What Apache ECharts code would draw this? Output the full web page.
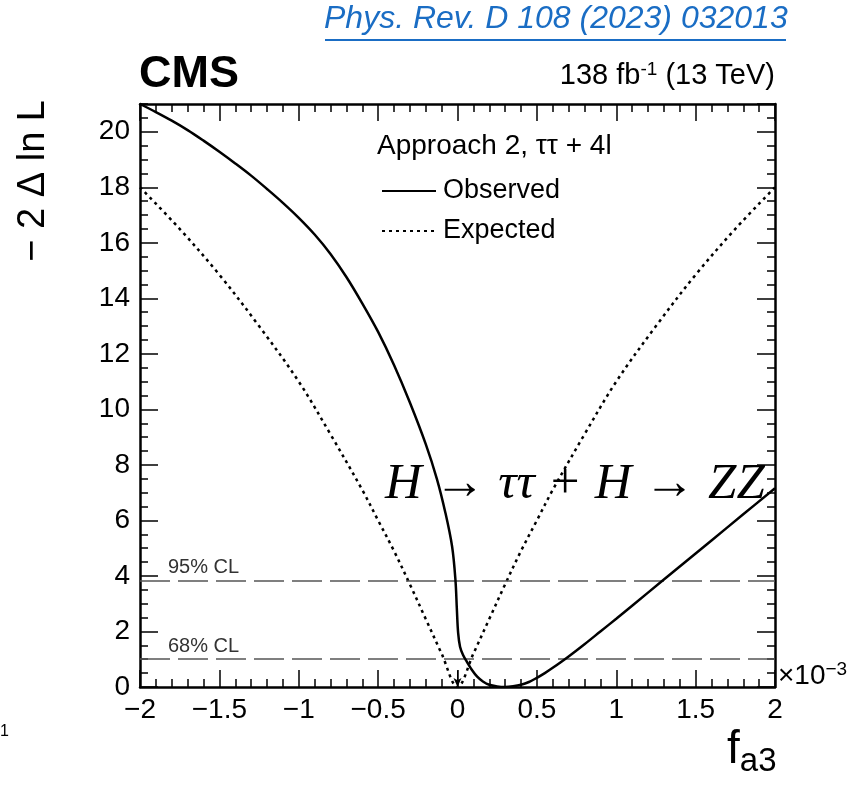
<!DOCTYPE html>
<html>
<head>
<meta charset="utf-8">
<script src="https://cdn.jsdelivr.net/npm/echarts@6/dist/echarts.min.js"></script>
<style>
html,body{margin:0;padding:0;background:#fff;}
#chart{width:851px;height:796px;}
</style>
</head>
<body>
<div id="chart"></div>
<script>
// ---- data ----
const obsX = [-2.0, -1.9, -1.8, -1.7, -1.6, -1.5, -1.4, -1.3, -1.2, -1.1, -1.0, -0.9, -0.8, -0.7, -0.6, -0.5, -0.4, -0.3, -0.2, -0.13, -0.076, -0.034, -0.013, -0.004, 0.004, 0.016, 0.035, 0.06, 0.09, 0.124, 0.16, 0.2, 0.25, 0.3, 0.35, 0.4, 0.45, 0.5, 0.55, 0.6, 0.7, 0.8, 0.9, 1.0, 1.2, 1.4, 1.6, 1.8, 2.0];
const obsY = [21.0, 20.71, 20.4, 20.06, 19.68, 19.28, 18.86, 18.42, 17.94, 17.44, 16.9, 16.3, 15.6, 14.77, 13.82, 12.79, 11.6, 10.25, 8.75, 7.5, 6.27, 5.06, 3.86, 2.8, 1.95, 1.45, 1.15, 0.9, 0.62, 0.37, 0.2, 0.08, 0.02, 0.0, 0.025, 0.08, 0.18, 0.33, 0.5, 0.69, 1.1, 1.54, 2.0, 2.46, 3.4, 4.34, 5.28, 6.22, 7.16];
const expX = [-2.0, -1.75, -1.5, -1.25, -1.0, -0.8, -0.6, -0.5, -0.4, -0.3, -0.2, -0.1, 0.0, 0.1, 0.2, 0.3, 0.4, 0.5, 0.6, 0.8, 1.0, 1.25, 1.5, 1.75, 2.0];
const expY = [18.0, 16.5, 14.85, 13.0, 11.0, 9.1, 7.1, 6.0, 4.9, 3.7, 2.45, 1.2, 0.0, 1.2, 2.45, 3.7, 4.9, 6.0, 7.1, 9.1, 11.0, 13.0, 14.85, 16.5, 18.0];
const clLevels = [1.0, 3.84];
const clLabels = ['68% CL', '95% CL'];
const arrowX = 0.0, arrowTop = 0.6;
const xTicks = [-2, -1.5, -1, -0.5, 0, 0.5, 1, 1.5, 2];
const yTicks = [0, 2, 4, 6, 8, 10, 12, 14, 16, 18, 20];
const seriesNames = ['Observed', 'Expected'];

const FONT = "'Liberation Sans', Arial, Helvetica, sans-serif";
const pair = (xs, ys) => xs.map((x, i) => [x, ys[i]]);
const fmtMinus = v => (v < 0 ? '\u2212' + Math.abs(v) : String(v));

const chart = echarts.init(document.getElementById('chart'), null, {renderer: 'canvas'});

const frameLine = {show: true, onZero: false, lineStyle: {color: '#000', width: 2.5}};
const hiddenLine = {show: false, onZero: false};
const majTickX = {show: true, inside: true, length: 17, lineStyle: {color: '#000', width: 1.5}};
const minTickX = {show: true, splitNumber: 5, length: 8, lineStyle: {color: '#000', width: 1.5}};
const majTickY = {show: true, inside: true, length: 18, lineStyle: {color: '#000', width: 1.5}};
const minTickY = {show: true, inside: true, length: 8, lineStyle: {color: '#000', width: 1.5}};

const option = {
  animation: false,
  backgroundColor: '#fff',
  grid: {left: 140, right: 76, top: 104, bottom: 109, containLabel: false},
  xAxis: [
    {type: 'value', min: -2, max: 2, interval: 0.5, position: 'bottom',
     axisLine: frameLine, axisTick: majTickX, minorTick: minTickX,
     splitLine: {show: false}, minorSplitLine: {show: false},
     axisLabel: {show: true, margin: 9, fontFamily: FONT, fontSize: 28, color: '#000',
       formatter: v => (xTicks.indexOf(v) >= 0 ? fmtMinus(v) : '')}},
    {type: 'value', min: -2, max: 2, interval: 0.5, position: 'top',
     axisLine: frameLine, axisTick: majTickX, minorTick: minTickX,
     splitLine: {show: false}, axisLabel: {show: false}}
  ],
  yAxis: [
    {type: 'value', min: 0, max: 21, interval: 2, position: 'left',
     axisLine: frameLine, axisTick: majTickY, splitLine: {show: false},
     axisLabel: {show: true, margin: 10, fontFamily: FONT, fontSize: 28, color: '#000', showMaxLabel: false,
       formatter: v => (yTicks.indexOf(v) >= 0 ? String(v) : '')}},
    {type: 'value', min: 0, max: 21, interval: 0.5, position: 'left',
     axisLine: hiddenLine, axisTick: minTickY, splitLine: {show: false}, axisLabel: {show: false}},
    {type: 'value', min: 0, max: 21, interval: 2, position: 'right',
     axisLine: frameLine, axisTick: majTickY, splitLine: {show: false}, axisLabel: {show: false}},
    {type: 'value', min: 0, max: 21, interval: 0.5, position: 'right',
     axisLine: hiddenLine, axisTick: minTickY, splitLine: {show: false}, axisLabel: {show: false}}
  ],
  legend: {
    orient: 'vertical', left: 376, top: 172, itemWidth: 54, itemHeight: 20, itemGap: 12,
    data: seriesNames,
    itemStyle: {opacity: 0},
    textStyle: {fontFamily: FONT, fontSize: 27, color: '#000', lineHeight: 28, padding: [0, 0, 0, 2]},
    inactiveColor: '#000'
  },
  series: [
    {name: seriesNames[0], type: 'line', xAxisIndex: 0, yAxisIndex: 0, data: pair(obsX, obsY),
     smooth: 0.35, symbol: 'none', showSymbol: false, color: '#000',
     lineStyle: {color: '#000', width: 2.5, type: 'solid'}, z: 5},
    {name: seriesNames[1], type: 'line', xAxisIndex: 0, yAxisIndex: 0, data: pair(expX, expY),
     smooth: 0.35, symbol: 'none', showSymbol: false, color: '#000',
     lineStyle: {color: '#000', width: 2.5, type: [3, 4]}, z: 4,
     markLine: {
       silent: true, symbol: ['none', 'none'], animation: false,
       data: clLevels.map((v, i) => ({yAxis: v,
         lineStyle: {color: '#555', width: 1.5, type: [30, 8]},
         label: {show: true, position: 'insideStartTop', formatter: clLabels[i], distance: [28, 3],
           fontFamily: FONT, fontSize: 20, color: '#333'}}))
         .concat([[
           {coord: [arrowX, arrowTop], symbol: 'none', lineStyle: {color: '#000', width: 1, type: 'solid'}, label: {show: false}},
           {coord: [arrowX, 0], symbol: 'arrow', symbolSize: [6, 9]}
         ]])
     }}
  ],
  graphic: [
    {type: 'text', left: 324, top: 3, style: {text: 'Phys. Rev. D 108 (2023) 032013', font: "italic 32px " + FONT, fill: '#1a6dc4'}},
    {type: 'rect', shape: {x: 325, y: 39, width: 461, height: 2}, style: {fill: '#1a6dc4'}},
    {type: 'text', left: 139, top: 52, style: {text: 'CMS', font: "bold 45px " + FONT, fill: '#000'}},
    {type: 'text', right: 76, top: 60, style: {
      rich: {n: {font: "29px " + FONT, fill: '#000'}, s: {font: "19px " + FONT, fill: '#000', padding: [0, 0, 12, 0]}},
      text: '{n|138 fb}{s|-1}{n| (13 TeV)}'}},
    {type: 'text', left: 377, top: 132, style: {text: 'Approach 2, \u03c4\u03c4 + 4l', font: "28px " + FONT, fill: '#000'}},
    {type: 'text', left: 385, top: 459, style: {text: 'H \u2192 \u03c4\u03c4 + H \u2192 ZZ', font: "italic 51px 'Liberation Serif', 'DejaVu Serif', serif", fill: '#000'}},
    {type: 'text', x: 34, y: 100, rotation: Math.PI / 2, style: {text: '\u2212 2 \u0394 ln L', font: "38px " + FONT, fill: '#000', align: 'right', verticalAlign: 'middle'}},
    {type: 'text', left: 727, top: 727, style: {
      rich: {f: {font: "46px " + FONT, fill: '#000'}, s: {font: "33px " + FONT, fill: '#000', padding: [24, 0, 0, 0]}},
      text: '{f|f}{s|a3}'}},
    {type: 'text', left: 778, top: 660, style: {
      rich: {n: {font: "28px " + FONT, fill: '#000'}, s: {font: "19px " + FONT, fill: '#000', padding: [0, 0, 14, 0]}},
      text: '{n|\u00d710}{s|\u22123}'}},
    {type: 'text', left: 0, top: 724, style: {text: '1', font: "16px " + FONT, fill: '#000'}}
  ]
};
chart.setOption(option);
</script>
</body>
</html>
